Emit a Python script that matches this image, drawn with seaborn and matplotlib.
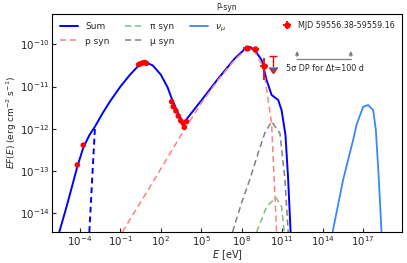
import numpy as np
import pandas as pd
import matplotlib
matplotlib.use("Agg")
import matplotlib.pyplot as plt
import seaborn as sns

# ---- data (log10 E [eV], log10 EF(E) [erg cm^-2 s^-1]) ----
sum_logE = [-5.54, -5.00, -4.62, -4.20, -3.76, -3.30, -2.89, -2.30, -1.77, -1.00, -0.29, 0.30,
            0.90, 1.40, 2.00, 2.50, 2.80, 3.30, 3.66, 3.80, 5.03, 6.26, 7.50, 8.37, 8.61,
            8.98, 9.48, 9.85, 10.22, 10.71, 10.96, 11.25, 11.45, 11.63]
sum_logF = [-14.45, -13.85, -13.40, -12.90, -12.45, -12.15, -11.95, -11.62, -11.35, -11.00,
            -10.72, -10.52, -10.43, -10.50, -10.72, -11.02, -11.28, -11.65, -11.86, -11.82,
            -11.32, -10.81, -10.33, -10.07, -10.06, -10.14, -10.37, -10.85, -11.20, -11.32,
            -11.56, -12.15, -13.20, -14.45]

lowcut_logE = [-3.31, -3.20, -3.05, -2.89]
lowcut_logF = [-14.45, -13.80, -12.90, -11.97]

psyn_logE = [-0.86, 1.0, 3.79, 5.03, 6.26, 7.50, 8.37, 8.98, 9.60, 10.22, 10.59]
psyn_logF = [-14.45, -13.48, -12.00, -11.38, -10.84, -10.36, -10.11, -10.18, -10.53, -11.87, -14.45]

pisyn_logE = [9.11, 9.85, 10.54, 10.96, 11.16]
pisyn_logF = [-14.45, -13.85, -13.63, -13.85, -14.45]

musyn_logE = [7.32, 8.00, 8.61, 9.20, 9.72, 10.22, 10.84, 11.21, 11.45]
musyn_logF = [-14.45, -13.75, -13.20, -12.60, -12.10, -11.83, -12.11, -13.20, -14.45]

numu_logE = [14.75, 15.53, 16.27, 16.53, 17.02, 17.39, 17.76, 17.96, 18.18, 18.38]
numu_logF = [-14.45, -13.21, -12.27, -11.90, -11.48, -11.44, -11.56, -12.03, -13.20, -14.45]

# archival data points (red dots)
dots_logE = [-4.20, -3.76, 0.35, 0.50, 0.65, 0.80, 0.93, 2.80, 2.92, 3.12, 3.29, 3.47, 3.66, 3.74, 3.91]
dots_logF = [-12.86, -12.39, -10.48, -10.46, -10.44, -10.43, -10.45, -11.36, -11.48, -11.58,
             -11.70, -11.81, -11.87, -11.97, -11.83]

# MJD 59556.38-59559.16 points
mjd_logE = [8.37, 8.98, 9.65]
mjd_logF = [-10.08, -10.12, -10.51]
mjd_logF_lo = [-10.13, -10.17, -10.85]
mjd_logF_hi = [-10.03, -10.07, -10.33]
mjd_logE_halfwidth = [0.30, 0.30, 0.30]

ul_logE = [10.30]
ul_logF = [-10.27]
ul_logF_end = [-10.53]

xticks_exp = [-4, -1, 2, 5, 8, 11, 14, 17]
yticks_exp = [-14, -13, -12, -11, -10]

# ---- figure ----
sns.set_style("ticks")
plt.rcParams['font.family'] = ['DejaVu Sans']
fig = plt.figure(figsize=(4.07, 2.63), dpi=100)
ax = fig.add_axes([0.1278, 0.1179, 0.8599, 0.8289])

def P(a):
    return np.power(10.0, np.asarray(a, dtype=float))

lw = 1.4
sns.lineplot(x=P(sum_logE), y=P(sum_logF), ax=ax, color="blue", lw=lw, sort=False, estimator=None)
sns.lineplot(x=P(lowcut_logE), y=P(lowcut_logF), ax=ax, color="blue", lw=lw, ls=(0, (3, 2)), sort=False, estimator=None)
sns.lineplot(x=P(psyn_logE), y=P(psyn_logF), ax=ax, color="#ff8080", lw=1.1, ls=(0, (4, 2.5)), sort=False, estimator=None)
sns.lineplot(x=P(pisyn_logE), y=P(pisyn_logF), ax=ax, color="#80bf80", lw=1.1, ls=(0, (4, 2.5)), sort=False, estimator=None)
sns.lineplot(x=P(musyn_logE), y=P(musyn_logF), ax=ax, color="#808080", lw=1.1, ls=(0, (4, 2.5)), sort=False, estimator=None)
sns.lineplot(x=P(numu_logE), y=P(numu_logF), ax=ax, color="#3a86ff", lw=1.3, sort=False, estimator=None)

lines = ax.get_lines()
h_handles = [lines[0], lines[2], lines[3], lines[4], lines[5]]
h_labels = ["Sum", "p syn", "π syn", "μ syn", r"$\nu_{\mu}$"]

sns.scatterplot(x=P(dots_logE), y=P(dots_logF), ax=ax, color="red", s=16, edgecolor="none", zorder=5)

mx = P(mjd_logE)
my = P(mjd_logF)
yerr = [my - P(mjd_logF_lo), P(mjd_logF_hi) - my]
xerr = [mx - P(np.array(mjd_logE) - np.array(mjd_logE_halfwidth)),
        P(np.array(mjd_logE) + np.array(mjd_logE_halfwidth)) - mx]
eb = ax.errorbar(mx, my, xerr=xerr, yerr=yerr, fmt="o", color="red", ms=3.5, elinewidth=1.3,
                 capsize=0, zorder=6, label="MJD 59556.38-59559.16")
ux = P(ul_logE); uy = P(ul_logF)
ax.errorbar(ux, uy, yerr=[uy - P(ul_logF_end), np.zeros(1)], uplims=True, fmt="none",
            ecolor="red", elinewidth=1.0, capsize=3, zorder=6)

# 5 sigma discovery potential bracket
xa, xb, yb, yt = 1.3e12, 1.26e16, 10**-10.35, 10**-10.09
ax.plot([xa, xb], [yb, yb], color="grey", lw=0.9)
for xx in (xa, xb):
    ax.annotate("", xy=(xx, yt), xytext=(xx, yb),
                arrowprops=dict(arrowstyle="-|>", color="grey", lw=0.9, mutation_scale=5))
ax.text(10**14.21, 10**-10.57, "5σ DP for Δt=100 d", fontsize=5.8, ha="center", va="center")

ax.set_xscale("log")
ax.set_yscale("log")
ax.set_xlim(10**-6.08, 10**19.9)
ax.set_ylim(10**-14.45, 10**-9.28)
ax.set_xticks([10.0**e for e in xticks_exp])
ax.set_yticks([10.0**e for e in yticks_exp])
ax.xaxis.set_minor_locator(matplotlib.ticker.NullLocator())
ax.yaxis.set_minor_locator(matplotlib.ticker.NullLocator())
ax.tick_params(labelsize=7.4, length=3, width=0.8, direction="in", pad=1.5)
for s in ax.spines.values():
    s.set_visible(True)
    s.set_linewidth(0.8)
    s.set_color("black")

ax.set_xlabel(r"$E$ [eV]", fontsize=7, labelpad=0)
ax.set_ylabel(r"$EF(E)$ (erg cm$^{-2}$ s$^{-1}$)", fontsize=6.5, labelpad=1)
ax.set_title("P-syn", fontsize=5.5, pad=3)

leg1 = ax.legend(h_handles, h_labels, loc="upper left", ncol=3, frameon=False, fontsize=6.5,
                 handlelength=2.0, columnspacing=1.7, borderaxespad=0.5, labelspacing=0.6)
ax.add_artist(leg1)
ax.legend([eb], ["MJD 59556.38-59559.16"], loc="upper right", frameon=False, fontsize=5.8,
          handlelength=1.2, borderaxespad=0.5)

fig.savefig("out.png", dpi=100)
